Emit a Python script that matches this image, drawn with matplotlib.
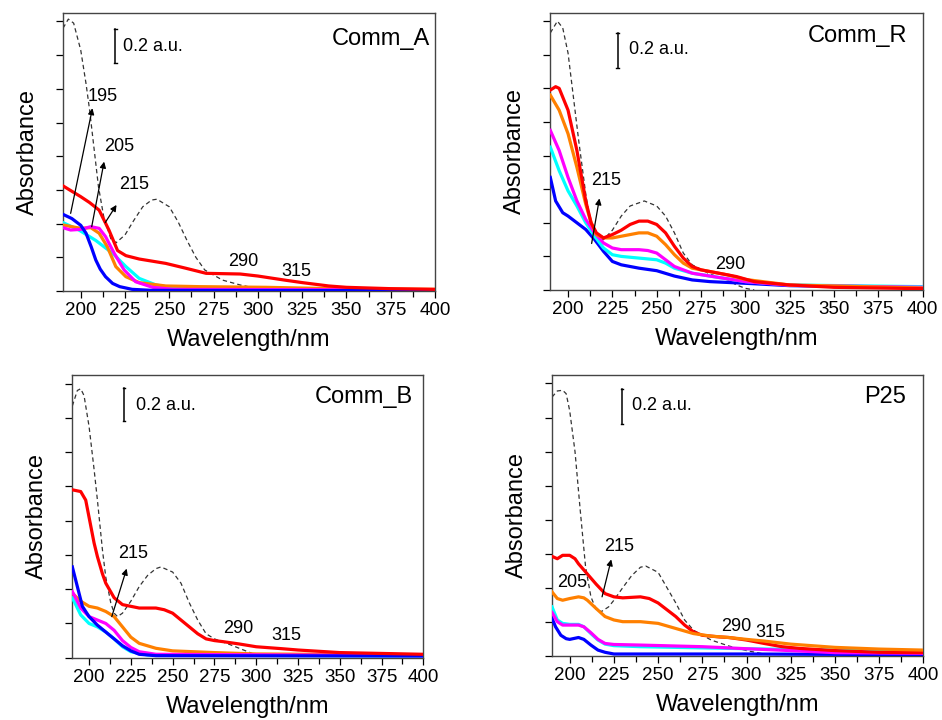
import matplotlib
matplotlib.use("Agg")
import matplotlib.pyplot as plt
from matplotlib.ticker import MultipleLocator, NullFormatter

plt.rcParams['font.family'] = ['Liberation Sans', 'DejaVu Sans']

# ---------------- Data (wavelength nm, absorbance a.u.) ----------------
# Panel Comm_A
A_red_wl = [190, 200, 205, 210.4, 216, 220.8, 225.5, 233, 248, 259.4, 270.8, 290, 300, 315, 325, 340, 350, 375, 400]
A_red_ab = [0.624, 0.560, 0.525, 0.48, 0.36, 0.24, 0.21, 0.19, 0.164, 0.135, 0.105, 0.101, 0.089, 0.065, 0.050, 0.030, 0.022, 0.014, 0.010]
A_orange_wl = [190, 200, 205.7, 210.4, 215, 219.8, 225.5, 233, 248, 267, 304.7, 342, 400]
A_orange_ab = [0.392, 0.372, 0.376, 0.343, 0.263, 0.145, 0.085, 0.05, 0.03, 0.026, 0.022, 0.014, 0.010]
A_magenta_wl = [190, 194.3, 200, 205.7, 210.4, 214, 218.9, 224.5, 231, 240.6, 252, 400]
A_magenta_ab = [0.376, 0.362, 0.366, 0.382, 0.372, 0.323, 0.224, 0.125, 0.055, 0.022, 0.010, 0.006]
A_cyan_wl = [190, 199, 208.5, 218, 225.5, 233, 242.5, 250, 267, 400]
A_cyan_ab = [0.406, 0.362, 0.30, 0.224, 0.145, 0.075, 0.036, 0.022, 0.014, 0.008]
A_blue_wl = [190, 195, 200, 203, 206, 208.5, 211, 214, 218, 222, 229, 240, 400]
A_blue_ab = [0.455, 0.43, 0.39, 0.343, 0.26, 0.184, 0.13, 0.085, 0.045, 0.026, 0.010, 0.004, 0.002]
A_ref_wl = [190, 193, 196, 200, 203, 205, 210, 213, 217, 220, 225, 230, 235, 240, 243, 250, 255, 260, 265, 270, 280, 290, 300, 305]
A_ref_ab = [1.56, 1.614, 1.59, 1.43, 1.23, 1.075, 0.62, 0.44, 0.31, 0.287, 0.333, 0.42, 0.50, 0.54, 0.545, 0.50, 0.41, 0.30, 0.20, 0.125, 0.065, 0.036, 0.014, 0.0]

# Panel Comm_R
R_red_wl = [190, 193, 195, 200, 205, 210, 213, 216, 220, 225, 230, 235, 240, 245, 250, 255, 260, 265, 270, 275, 285, 295, 305, 325, 350, 400]
R_red_ab = [1.19, 1.21, 1.20, 1.07, 0.83, 0.53, 0.40, 0.34, 0.31, 0.33, 0.356, 0.39, 0.41, 0.41, 0.39, 0.34, 0.26, 0.19, 0.14, 0.12, 0.10, 0.08, 0.05, 0.03, 0.016, 0.008]
R_orange_wl = [190, 195, 200, 205, 210, 213, 216, 220, 225, 230, 240, 245, 250, 255, 260, 265, 270, 280, 290, 300, 325, 400]
R_orange_ab = [1.16, 1.07, 0.93, 0.73, 0.51, 0.40, 0.33, 0.31, 0.31, 0.32, 0.34, 0.34, 0.32, 0.27, 0.21, 0.16, 0.13, 0.11, 0.09, 0.063, 0.03, 0.012]
R_magenta_wl = [190, 195, 200, 205, 210, 215, 220, 225, 230, 240, 245, 250, 255, 260, 270, 280, 300, 325, 400]
R_magenta_ab = [0.95, 0.83, 0.67, 0.53, 0.42, 0.34, 0.28, 0.25, 0.24, 0.24, 0.235, 0.22, 0.18, 0.14, 0.10, 0.083, 0.05, 0.028, 0.016]
R_cyan_wl = [190, 195, 200, 205, 210, 215, 220, 225, 230, 240, 250, 255, 260, 270, 280, 300, 325, 400]
R_cyan_ab = [0.85, 0.71, 0.59, 0.50, 0.40, 0.32, 0.25, 0.21, 0.20, 0.19, 0.18, 0.16, 0.13, 0.10, 0.083, 0.05, 0.03, 0.02]
R_blue_wl = [190, 193, 197, 200, 205, 210, 215, 220, 225, 230, 240, 250, 260, 270, 280, 300, 325, 400]
R_blue_ab = [0.67, 0.53, 0.46, 0.44, 0.40, 0.36, 0.30, 0.23, 0.17, 0.15, 0.13, 0.115, 0.083, 0.06, 0.05, 0.04, 0.026, 0.016]
R_ref_wl = [190, 194, 197, 200, 203, 206, 210, 213, 217, 220, 225, 230, 235, 243, 250, 255, 260, 265, 270, 280, 290, 295, 300, 305]
R_ref_ab = [1.53, 1.60, 1.56, 1.41, 1.15, 0.89, 0.57, 0.38, 0.30, 0.30, 0.356, 0.44, 0.50, 0.53, 0.50, 0.44, 0.34, 0.22, 0.15, 0.095, 0.06, 0.03, 0.01, 0.0]

# Panel Comm_B
B_red_wl = [190, 195, 198, 200, 203, 205, 208, 210, 215, 220, 225, 230, 240, 245, 250, 255, 260, 265, 270, 275, 280, 290, 300, 315, 325, 350, 375, 400]
B_red_ab = [0.98, 0.97, 0.92, 0.82, 0.67, 0.59, 0.49, 0.435, 0.35, 0.31, 0.30, 0.29, 0.29, 0.28, 0.26, 0.22, 0.18, 0.14, 0.11, 0.10, 0.094, 0.08, 0.064, 0.053, 0.045, 0.03, 0.025, 0.02]
B_orange_wl = [190, 195, 200, 205, 210, 215, 220, 225, 230, 240, 250, 275, 300, 400]
B_orange_ab = [0.376, 0.33, 0.30, 0.29, 0.27, 0.24, 0.18, 0.12, 0.084, 0.055, 0.04, 0.03, 0.022, 0.016]
B_magenta_wl = [190, 195, 200, 205, 210, 215, 220, 225, 230, 240, 400]
B_magenta_ab = [0.386, 0.29, 0.24, 0.22, 0.20, 0.16, 0.10, 0.06, 0.035, 0.02, 0.012]
B_cyan_wl = [190, 195, 200, 205, 210, 215, 220, 225, 235, 400]
B_cyan_ab = [0.35, 0.25, 0.20, 0.18, 0.15, 0.11, 0.064, 0.035, 0.016, 0.01]
B_blue_wl = [190, 193, 196, 200, 205, 210, 215, 220, 225, 230, 240, 400]
B_blue_ab = [0.53, 0.415, 0.30, 0.24, 0.19, 0.15, 0.11, 0.07, 0.04, 0.02, 0.012, 0.01]
B_ref_wl = [190, 193, 195, 197, 200, 203, 205, 208, 210, 213, 215, 217, 220, 225, 230, 235, 240, 243, 250, 255, 260, 265, 270, 275, 285, 295, 300]
B_ref_ab = [1.47, 1.56, 1.57, 1.53, 1.35, 1.10, 0.92, 0.63, 0.47, 0.32, 0.26, 0.24, 0.26, 0.33, 0.415, 0.48, 0.52, 0.53, 0.50, 0.435, 0.32, 0.22, 0.14, 0.11, 0.074, 0.035, 0.015]

# Panel P25
P_red_wl = [190, 193, 196, 200, 203, 205, 210, 215, 220, 225, 230, 240, 245, 250, 255, 260, 265, 270, 275, 285, 290, 300, 310, 320, 330, 350, 375, 400]
P_red_ab = [0.584, 0.57, 0.59, 0.59, 0.57, 0.54, 0.48, 0.42, 0.365, 0.346, 0.34, 0.346, 0.336, 0.31, 0.27, 0.23, 0.18, 0.14, 0.12, 0.11, 0.107, 0.092, 0.072, 0.053, 0.043, 0.03, 0.02, 0.018]
P_orange_wl = [190, 193, 196, 200, 205, 208, 210, 215, 220, 225, 230, 240, 250, 260, 270, 280, 290, 300, 310, 325, 350, 375, 400]
P_orange_ab = [0.375, 0.336, 0.326, 0.336, 0.346, 0.34, 0.326, 0.277, 0.23, 0.21, 0.20, 0.20, 0.19, 0.16, 0.13, 0.115, 0.107, 0.096, 0.086, 0.068, 0.049, 0.039, 0.033]
P_magenta_wl = [190, 193, 196, 200, 205, 208, 212, 216, 220, 225, 240, 260, 275, 300, 325, 350, 400]
P_magenta_ab = [0.254, 0.20, 0.18, 0.18, 0.18, 0.17, 0.135, 0.096, 0.072, 0.066, 0.0625, 0.057, 0.053, 0.041, 0.03, 0.018, 0.014]
P_cyan_wl = [190, 193, 196, 200, 205, 208, 212, 216, 220, 225, 240, 260, 300, 350, 400]
P_cyan_ab = [0.287, 0.21, 0.19, 0.184, 0.184, 0.17, 0.13, 0.092, 0.068, 0.059, 0.053, 0.049, 0.041, 0.033, 0.027]
P_blue_wl = [190, 192, 195, 198, 200, 205, 208, 212, 216, 220, 225, 250, 300, 400]
P_blue_ab = [0.22, 0.17, 0.12, 0.10, 0.096, 0.107, 0.096, 0.0625, 0.033, 0.02, 0.01, 0.01, 0.01, 0.006]
P_ref_wl = [190, 193, 196, 198, 200, 203, 206, 209, 212, 215, 218, 222, 225, 230, 235, 240, 243, 250, 255, 260, 265, 270, 280, 290, 300, 310]
P_ref_ab = [1.52, 1.556, 1.56, 1.54, 1.44, 1.20, 0.85, 0.52, 0.346, 0.27, 0.26, 0.287, 0.326, 0.40, 0.47, 0.52, 0.527, 0.49, 0.40, 0.31, 0.21, 0.15, 0.092, 0.057, 0.03, 0.01]

x_ticks = [200, 225, 250, 275, 300, 325, 350, 375, 400]
colors = {'red': '#ff0000', 'orange': '#ff8000', 'magenta': '#ff00ff', 'cyan': '#00ffff', 'blue': '#0000ff'}

# ---------------- Figure ----------------
fig = plt.figure(figsize=(9.42, 7.2), dpi=100)

panels = [
    dict(name='Comm_A', rect=[0.0669, 0.5958, 0.3949, 0.3861],
         series=[('cyan', A_cyan_wl, A_cyan_ab), ('orange', A_orange_wl, A_orange_ab),
                 ('magenta', A_magenta_wl, A_magenta_ab), ('blue', A_blue_wl, A_blue_ab),
                 ('red', A_red_wl, A_red_ab)],
         ref=(A_ref_wl, A_ref_ab),
         arrows=[((194.3, 0.461), (206.6, 1.085)), ((206.2, 0.382), (213.2, 0.768)), ((213.8, 0.406), (220.2, 0.511))],
         labels=[('195', 212.3, 1.154), ('205', 221.7, 0.857), ('215', 230.2, 0.630), ('290', 291.5, 0.174), ('315', 321.7, 0.115)],
         bar=(219.4, 1.352, 1.554), bartext=(223.6, 1.45), title=(397, 1.495)),
    dict(name='Comm_R', rect=[0.5842, 0.5972, 0.3953, 0.3851],
         series=[('blue', R_blue_wl, R_blue_ab), ('cyan', R_cyan_wl, R_cyan_ab),
                 ('magenta', R_magenta_wl, R_magenta_ab), ('orange', R_orange_wl, R_orange_ab),
                 ('red', R_red_wl, R_red_ab)],
         ref=(R_ref_wl, R_ref_ab),
         arrows=[((213.3, 0.277), (217.7, 0.545))],
         labels=[('215', 221.4, 0.653), ('290', 291.5, 0.152)],
         bar=(228.0, 1.32, 1.53), bartext=(234.6, 1.43), title=(391.5, 1.51)),
    dict(name='Comm_B', rect=[0.0768, 0.0865, 0.3726, 0.3926],
         series=[('cyan', B_cyan_wl, B_cyan_ab), ('orange', B_orange_wl, B_orange_ab),
                 ('magenta', B_magenta_wl, B_magenta_ab), ('blue', B_blue_wl, B_blue_ab),
                 ('red', B_red_wl, B_red_ab)],
         ref=(B_ref_wl, B_ref_ab),
         arrows=[((213.6, 0.24), (222.5, 0.52))],
         labels=[('215', 226.5, 0.61), ('290', 289, 0.17), ('315', 318, 0.127)],
         bar=(221.0, 1.38, 1.575), bartext=(228.2, 1.47), title=(393.6, 1.52)),
    dict(name='P25', rect=[0.586, 0.0893, 0.3942, 0.3899],
         series=[('blue', P_blue_wl, P_blue_ab), ('cyan', P_cyan_wl, P_cyan_ab),
                 ('magenta', P_magenta_wl, P_magenta_ab), ('red', P_red_wl, P_red_ab),
                 ('orange', P_orange_wl, P_orange_ab)],
         ref=(P_ref_wl, P_ref_ab),
         arrows=[((218.3, 0.346), (223.5, 0.566))],
         labels=[('215', 228.2, 0.64), ('205', 201.3, 0.43), ('290', 294, 0.17), ('315', 313.5, 0.137)],
         bar=(229.6, 1.36, 1.566), bartext=(235.2, 1.47), title=(390.2, 1.52)),
]

for p in panels:
    ax = fig.add_axes(p['rect'])
    ax.plot(p['ref'][0], p['ref'][1], color='#333333', lw=0.9, ls=(0, (3.5, 2.5)), zorder=2)
    for cname, wl, ab in p['series']:
        ax.plot(wl, ab, color=colors[cname], lw=2.3, solid_joinstyle='round', zorder=3)
    for (x0, y0), (x1, y1) in p['arrows']:
        ax.annotate('', xy=(x1, y1), xytext=(x0, y0),
                    arrowprops=dict(arrowstyle='-|>', color='black', lw=0.9,
                                    mutation_scale=9, shrinkA=0, shrinkB=0), zorder=5)
    for t, x, y in p['labels']:
        ax.text(x, y, t, fontsize=13, ha='center', va='center', zorder=6)
    bx, by0, by1 = p['bar']
    ax.plot([bx, bx], [by0, by1], color='black', lw=1.1)
    ax.plot([bx - 0.8, bx + 0.8], [by0, by0], color='black', lw=1.0)
    ax.plot([bx - 0.8, bx + 0.8], [by1, by1], color='black', lw=1.0)
    ax.text(p['bartext'][0], p['bartext'][1], '0.2 a.u.', fontsize=13, ha='left', va='center')
    ax.text(p['title'][0], p['title'][1], p['name'], fontsize=17, ha='right', va='center')

    ax.set_xlim(190, 400)
    ax.set_ylim(0, 1.65)
    ax.set_xticks(x_ticks)
    ax.xaxis.set_minor_locator(MultipleLocator(12.5))
    ax.yaxis.set_major_locator(MultipleLocator(0.2))
    ax.yaxis.set_major_formatter(NullFormatter())
    ax.tick_params(axis='x', which='major', direction='out', length=5, width=0.9,
                   labelsize=13.5, pad=3, top=False)
    ax.tick_params(axis='x', which='minor', direction='out', length=4, width=0.9, top=False)
    ax.tick_params(axis='y', which='major', direction='out', length=5, width=0.9, right=False)
    for s in ax.spines.values():
        s.set_color('#444444')
        s.set_linewidth(1.0)
    ax.set_xlabel('Wavelength/nm', fontsize=17, labelpad=7)
    ax.set_ylabel('Absorbance', fontsize=17, labelpad=9)

fig.savefig('out.png', dpi=100)
